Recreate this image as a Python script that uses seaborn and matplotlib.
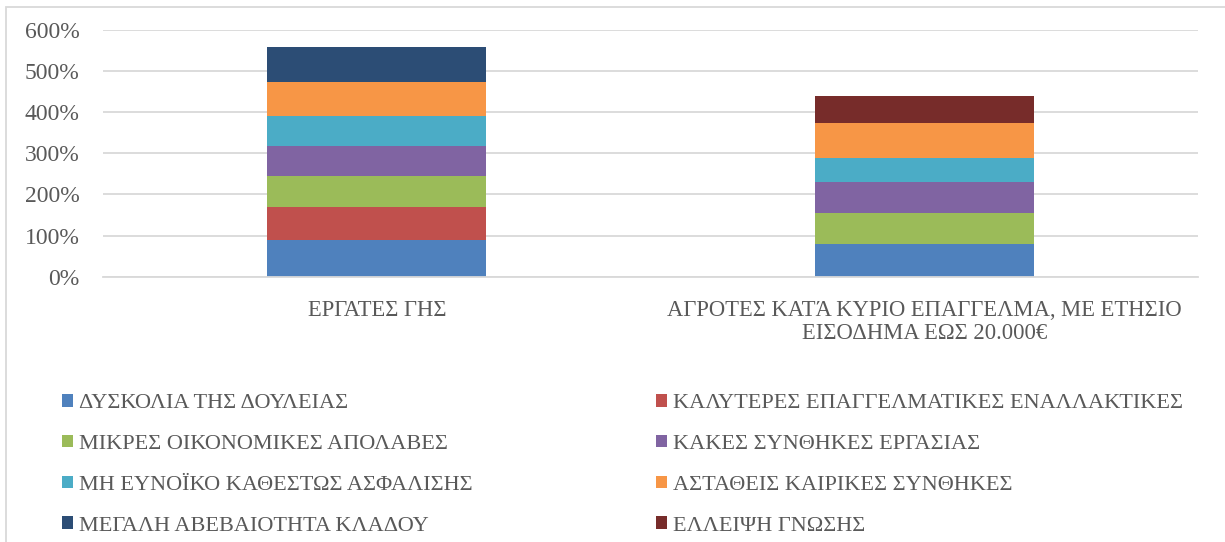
import matplotlib
matplotlib.use("Agg")
import matplotlib.pyplot as plt
import seaborn as sns
from matplotlib.patches import Patch, Rectangle
from matplotlib.ticker import PercentFormatter

# categories on the x axis
categories = ["ΕΡΓΑΤΕΣ ΓΗΣ",
              "ΑΓΡΟΤΕΣ ΚΑΤΆ ΚΥΡΙΟ ΕΠΑΓΓΕΛΜΑ, ΜΕ ΕΤΗΣΙΟ\nΕΙΣΟΔΗΜΑ ΕΩΣ 20.000€"]

# stacked series (percent), bottom to top
reasons = ["ΔΥΣΚΟΛΙΑ ΤΗΣ ΔΟΥΛΕΙΑΣ",
           "ΚΑΛΥΤΕΡΕΣ ΕΠΑΓΓΕΛΜΑΤΙΚΕΣ ΕΝΑΛΛΑΚΤΙΚΕΣ",
           "ΜΙΚΡΕΣ ΟΙΚΟΝΟΜΙΚΕΣ ΑΠΟΛΑΒΕΣ",
           "ΚΑΚΕΣ ΣΥΝΘΗΚΕΣ ΕΡΓΑΣΙΑΣ",
           "ΜΗ ΕΥΝΟΪΚΟ ΚΑΘΕΣΤΩΣ ΑΣΦΑΛΙΣΗΣ",
           "ΑΣΤΑΘΕΙΣ ΚΑΙΡΙΚΕΣ ΣΥΝΘΗΚΕΣ",
           "ΜΕΓΑΛΗ ΑΒΕΒΑΙΟΤΗΤΑ ΚΛΑΔΟΥ",
           "ΕΛΛΕΙΨΗ ΓΝΩΣΗΣ"]
dyskolia = [89, 80]
kalyteres = [81, 0]
mikres = [76, 76]
kakes = [72, 75]
asfalisi = [72, 58]
kairikes = [83, 86]
avevaiotita = [85, 0]
gnosi = [0, 64]
series = [dyskolia, kalyteres, mikres, kakes, asfalisi, kairikes, avevaiotita, gnosi]

colors = ["#4F81BD", "#C0504D", "#9BBB59", "#8064A2",
          "#4BACC6", "#F79646", "#2C4D75", "#772C2A"]
text_color = "#595959"
grid_color = "#D9D9D9"

sns.set_theme(style="white")
plt.rcParams["font.family"] = ["Liberation Serif", "DejaVu Serif"]

W, H = 1225, 542
fig = plt.figure(figsize=(W / 100, H / 100), dpi=100)
ax = fig.add_axes([103 / W, 1 - 276.7 / H, (1198 - 103) / W, (276.7 - 30) / H])

# draw cumulative totals from the top layer down so the bars look stacked
for i in range(len(series) - 1, -1, -1):
    totals = [sum(s[j] for s in series[:i + 1]) for j in range(len(categories))]
    sns.barplot(x=categories, y=totals, color=colors[i], width=0.4,
                saturation=1, errorbar=None, linewidth=0, ax=ax)

ax.set_ylim(0, 600)
ax.set_yticks(range(0, 601, 100))
ax.yaxis.set_major_formatter(PercentFormatter(xmax=100, decimals=0))
ax.yaxis.grid(True, color=grid_color, linewidth=1.3)
ax.set_axisbelow(True)
for side in ["top", "right", "left"]:
    ax.spines[side].set_visible(False)
ax.spines["bottom"].set_color(grid_color)
ax.spines["bottom"].set_linewidth(1.3)
ax.tick_params(axis="both", length=0, labelcolor=text_color)
ax.tick_params(axis="y", pad=17, labelsize=17)
ax.tick_params(axis="x", pad=17, labelsize=16.3)
for lbl in ax.get_xticklabels():
    lbl.set_linespacing(1.1)
ax.set_xlabel("")
ax.set_ylabel("")

# legend: two columns, filled row by row
handles = [Patch(facecolor=c, edgecolor="none") for c in colors]
common = dict(loc="upper left", frameon=False, fontsize=16, labelcolor=text_color,
              handlelength=0.5, handleheight=0.5, handletextpad=0.25,
              labelspacing=0.97, borderpad=0, borderaxespad=0)
fig.legend(handles[0::2], reasons[0::2], bbox_to_anchor=(62 / W, 1 - 394 / H), **common)
fig.legend(handles[1::2], reasons[1::2], bbox_to_anchor=(656 / W, 1 - 394 / H), **common)

# chart frame
fig.add_artist(Rectangle((5.5 / W, -0.05), 1.2, 1.05 - 6.5 / H, transform=fig.transFigure,
                         fill=False, edgecolor=grid_color, linewidth=1.3))

fig.savefig("out.png", dpi=100)
